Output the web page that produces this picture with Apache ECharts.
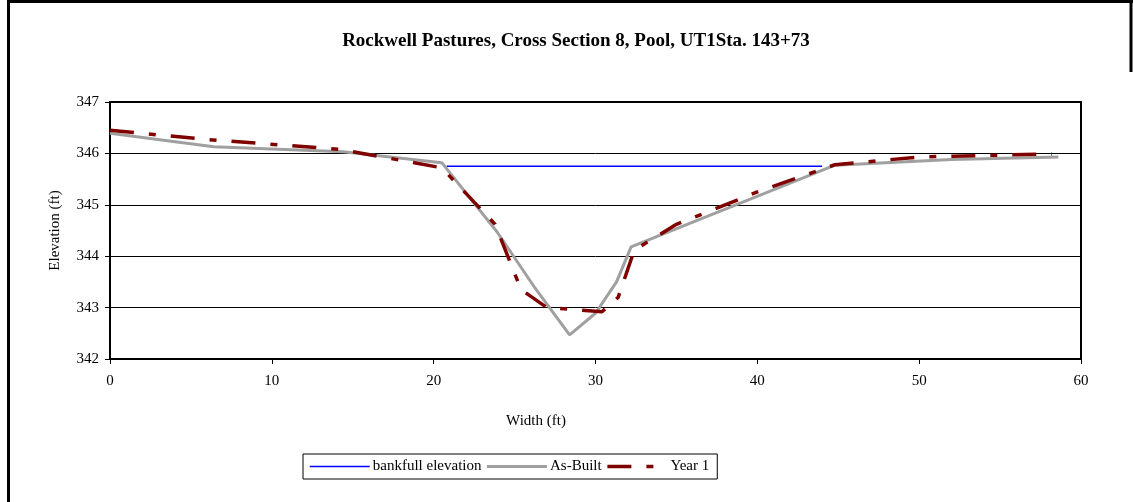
<!DOCTYPE html>
<html>
<head>
<meta charset="utf-8">
<script src="https://cdn.jsdelivr.net/npm/echarts@6/dist/echarts.min.js"></script>
<style>
html,body{margin:0;padding:0;background:#fff;}
#chart{width:1133px;height:502px;}
</style>
</head>
<body>
<div id="chart"></div>
<script>
// Data
const titleText = "Rockwell Pastures, Cross Section 8, Pool, UT1Sta. 143+73";
const seriesNames = ["bankfull elevation", "As-Built", "Year 1"];
const bankfull = [[20.8, 345.75], [44.0, 345.75]];
const asBuilt = [
  [0, 346.39], [6.4, 346.13], [14.4, 346.03], [20.5, 345.82], [23.9, 344.48],
  [26.2, 343.41], [28.4, 342.47], [30.0, 342.89], [31.3, 343.5], [32.2, 344.18],
  [44.8, 345.77], [52.0, 345.88], [58.6, 345.93]
];
const year1 = [
  [0, 346.45], [6.0, 346.27], [14.2, 346.08], [20.5, 345.72], [23.8, 344.62],
  [25.4, 343.35], [27.0, 343.0], [30.4, 342.92], [31.4, 343.2], [32.4, 344.12],
  [35.0, 344.62], [40.0, 345.25], [44.8, 345.78], [50.0, 345.93], [58.2, 345.99]
];
const xTicks = [0, 10, 20, 30, 40, 50, 60];
const yTicks = [342, 343, 344, 345, 346, 347];

const FONT = "'Liberation Serif', 'Times New Roman', serif";
const chart = echarts.init(document.getElementById('chart'), null, {renderer: 'canvas'});
chart.setOption({
  animation: false,
  backgroundColor: '#fff',
  textStyle: {fontFamily: FONT, color: '#000'},
  title: [
    {text: titleText, left: 571, top: 27, textAlign: 'center',
     textStyle: {fontFamily: FONT, fontSize: 19, fontWeight: 'bold', color: '#000'}},
    {text: 'Width (ft)', left: 531, top: 409, textAlign: 'center',
     textStyle: {fontFamily: FONT, fontSize: 15, fontWeight: 'normal', color: '#000'}}
  ],
  grid: {left: 110, right: 52, top: 102, bottom: 143, show: true,
         borderColor: '#000', borderWidth: 2, backgroundColor: 'transparent'},
  legend: {
    left: 303, top: 454, orient: 'horizontal',
    padding: [5, 8, 5, 6], itemGap: 4, itemWidth: 60, itemHeight: 14,
    borderColor: '#000', borderWidth: 1,
    data: seriesNames,
    itemStyle: {opacity: 0},
    lineStyle: {width: 'inherit'},
    textStyle: {fontFamily: FONT, fontSize: 15, color: '#000', padding: [0, 0, 0, -2]}
  },
  xAxis: {
    type: 'value', min: xTicks[0], max: xTicks[xTicks.length - 1], interval: 10,
    axisLine: {show: true, onZero: false, lineStyle: {color: '#000', width: 2}},
    axisTick: {show: true, inside: false, length: 5, lineStyle: {color: '#000', width: 1}},
    axisLabel: {fontFamily: FONT, fontSize: 15, color: '#000', margin: 15},
    splitLine: {show: false}
  },
  yAxis: {
    type: 'value', min: yTicks[0], max: yTicks[yTicks.length - 1], interval: 1,
    name: 'Elevation (ft)', nameLocation: 'middle', nameGap: 47, nameRotate: 90,
    nameTextStyle: {fontFamily: FONT, fontSize: 15, color: '#000'},
    axisLine: {show: true, onZero: false, lineStyle: {color: '#000', width: 1.5}},
    axisTick: {show: true, inside: false, length: 5, lineStyle: {color: '#000', width: 1}},
    axisLabel: {fontFamily: FONT, fontSize: 15, color: '#000', margin: 11},
    splitLine: {show: true, lineStyle: {color: '#000', width: 1}}
  },
  series: [
    {name: seriesNames[0], type: 'line', data: bankfull, symbol: 'none',
     lineStyle: {color: '#0000ff', width: 1.5}, itemStyle: {color: '#0000ff'}, z: 2},
    {name: seriesNames[1], type: 'line', data: asBuilt, symbol: 'none',
     lineStyle: {color: '#a0a0a0', width: 3}, itemStyle: {color: '#a0a0a0'}, z: 3},
    {name: seriesNames[2], type: 'line', data: year1, symbol: 'none',
     lineStyle: {color: '#800000', width: 3.5, type: [24, 15, 7, 15]},
     itemStyle: {color: '#800000'}, z: 4}
  ],
  graphic: [
    {type: 'line', shape: {x1: 8.5, y1: 0, x2: 8.5, y2: 502}, style: {stroke: '#000', lineWidth: 3}, silent: true},
    {type: 'line', shape: {x1: 7, y1: 1.5, x2: 1133, y2: 1.5}, style: {stroke: '#000', lineWidth: 3}, silent: true},
    {type: 'line', shape: {x1: 1131, y1: 0, x2: 1131, y2: 72}, style: {stroke: '#000', lineWidth: 3}, silent: true}
  ]
});
</script>
</body>
</html>
